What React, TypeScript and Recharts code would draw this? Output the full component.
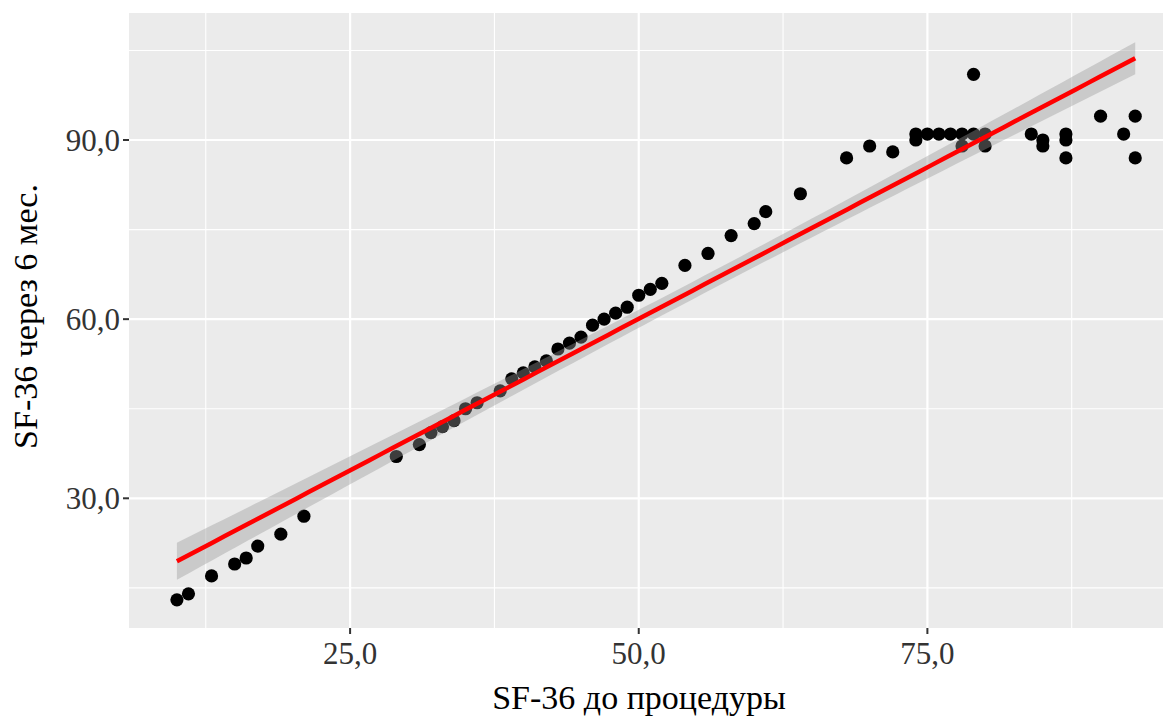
import React from "react";
import {
  ComposedChart,
  Scatter,
  Line,
  Area,
  XAxis,
  YAxis,
  CartesianGrid,
  Label,
} from "recharts";

// SF-36 score before the procedure and six months later, one pair per patient
const sfBefore = [
  10, 11, 13, 15, 16, 17, 19, 21,
  29, 31, 32, 33, 34, 35, 36, 38, 39, 40, 41, 42, 43, 44, 45, 46, 47, 48, 49,
  50, 51, 52, 54, 56, 58, 60, 61, 64,
  68, 70, 72, 74, 74, 75, 76, 77, 78, 78, 79, 79, 80, 80,
  84, 85, 85, 87, 87, 87, 90, 92, 93, 93,
];
const sfAfter = [
  13, 14, 17, 19, 20, 22, 24, 27,
  37, 39, 41, 42, 43, 45, 46, 48, 50, 51, 52, 53, 55, 56, 57, 59, 60, 61, 62,
  64, 65, 66, 69, 71, 74, 76, 78, 81,
  87, 89, 88, 91, 90, 91, 91, 91, 91, 89, 91, 101, 91, 89,
  91, 90, 89, 91, 90, 87, 94, 91, 94, 87,
];

const xTicks = [25, 50, 75];
const yTicks = [30, 60, 90];
const xMinorGrid = [12.5, 37.5, 62.5, 87.5];
const yMinorGrid = [15, 45, 75, 105];
const xLimits: [number, number] = [5.85, 96.1];
const yLimits: [number, number] = [8.28, 111.27];

const xTitle = "SF-36 до процедуры";
const yTitle = "SF-36 через 6 мес.";

// Student t quantile (0.975) for n - 2 = 58 degrees of freedom
const T_975 = 2.0017;

const fmt = (v: number) => v.toFixed(1).replace(".", ",");

const points = sfBefore.map((x, i) => ({ x, y: sfAfter[i] }));

// Ordinary least squares line with its 95% confidence band
function linearFit(xs: number[], ys: number[], steps = 80) {
  const n = xs.length;
  const mx = xs.reduce((a, b) => a + b, 0) / n;
  const my = ys.reduce((a, b) => a + b, 0) / n;
  let sxx = 0;
  let sxy = 0;
  for (let i = 0; i < n; i++) {
    sxx += (xs[i] - mx) ** 2;
    sxy += (xs[i] - mx) * (ys[i] - my);
  }
  const slope = sxy / sxx;
  const intercept = my - slope * mx;
  let sse = 0;
  for (let i = 0; i < n; i++) sse += (ys[i] - (intercept + slope * xs[i])) ** 2;
  const s = Math.sqrt(sse / (n - 2));
  const lo = Math.min(...xs);
  const hi = Math.max(...xs);
  const rows = [];
  for (let k = 0; k <= steps; k++) {
    const x = lo + ((hi - lo) * k) / steps;
    const fit = intercept + slope * x;
    const se = s * Math.sqrt(1 / n + (x - mx) ** 2 / sxx);
    rows.push({ x, fit, band: [fit - T_975 * se, fit + T_975 * se] });
  }
  return rows;
}

const fitRows = linearFit(sfBefore, sfAfter);

const FONT = "'Liberation Serif', 'Times New Roman', serif";

const Dot = (props: any) => (
  <circle cx={props.cx} cy={props.cy} r={6.6} fill="#000000" />
);

export default function App() {
  return (
    <ComposedChart
      width={1163}
      height={709}
      data={fitRows}
      margin={{ top: 5, right: 0, bottom: 0, left: 0 }}
    >
      <CartesianGrid
        fill="#EBEBEB"
        stroke="#FFFFFF"
        strokeWidth={1.1}
        horizontalValues={yMinorGrid}
        verticalValues={xMinorGrid}
      />
      <CartesianGrid
        fill="none"
        stroke="#FFFFFF"
        strokeWidth={2.2}
        horizontalValues={yTicks}
        verticalValues={xTicks}
      />
      <XAxis
        type="number"
        dataKey="x"
        domain={xLimits}
        allowDataOverflow
        ticks={xTicks}
        tickFormatter={fmt}
        axisLine={false}
        tickSize={6}
        tickMargin={8}
        tickLine={{ stroke: "#333333", strokeWidth: 2 }}
        tick={{ fill: "#333333", fontSize: 31, fontFamily: FONT }}
        height={89}
      >
        <Label
          content={({ viewBox }: any) => (
            <text
              x={viewBox.x + viewBox.width / 2 - 11}
              y={viewBox.y + viewBox.height - 8}
              textAnchor="middle"
              fontSize={34}
              fontFamily={FONT}
              fill="#000000"
            >
              {xTitle}
            </text>
          )}
        />
      </XAxis>
      <YAxis
        type="number"
        dataKey="y"
        domain={yLimits}
        allowDataOverflow
        ticks={yTicks}
        tickFormatter={fmt}
        axisLine={false}
        tickSize={6}
        tickMargin={3}
        tickLine={{ stroke: "#333333", strokeWidth: 2 }}
        tick={{ fill: "#333333", fontSize: 31, fontFamily: FONT }}
        width={121}
      >
        <Label
          content={({ viewBox }: any) => {
            const x = viewBox.x + 29;
            const y = viewBox.y + viewBox.height / 2 - 4;
            return (
              <text
                x={x}
                y={y}
                transform={`rotate(-90, ${x}, ${y})`}
                textAnchor="middle"
                fontSize={34}
                fontFamily={FONT}
                fill="#000000"
              >
                {yTitle}
              </text>
            );
          }}
        />
      </YAxis>
      <Scatter
        data={points}
        dataKey="y"
        shape={Dot}
        isAnimationActive={false}
        zIndex={300}
      />
      <Area
        dataKey="band"
        stroke="none"
        fill="#999999"
        fillOpacity={0.4}
        isAnimationActive={false}
        activeDot={false}
        zIndex={700}
      />
      <Line
        dataKey="fit"
        stroke="#FF0000"
        strokeWidth={4.5}
        dot={false}
        activeDot={false}
        isAnimationActive={false}
        zIndex={800}
      />
    </ComposedChart>
  );
}
